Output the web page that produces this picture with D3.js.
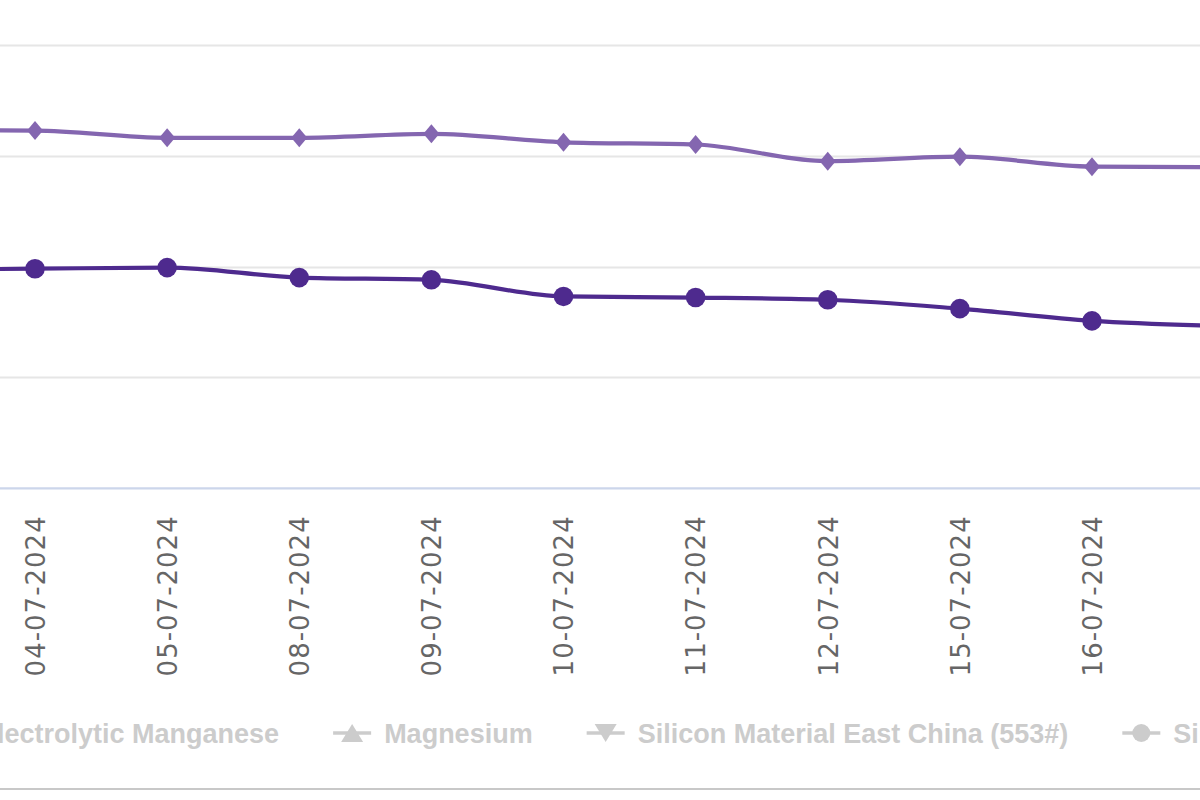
<!DOCTYPE html>
<html>
<head>
<meta charset="utf-8">
<script src="https://cdn.jsdelivr.net/npm/d3@7/dist/d3.min.js"></script>
<style>
  html, body { margin: 0; padding: 0; background: #fff; overflow: hidden; }
  svg { display: block; }
</style>
</head>
<body>
<svg id="chart" width="1200" height="800"></svg>
<script>
// ---- data ----
const dates = ["03-07-2024","04-07-2024","05-07-2024","08-07-2024","09-07-2024","10-07-2024",
               "11-07-2024","12-07-2024","15-07-2024","16-07-2024","17-07-2024"];
const tickLabels = ["04-07-2024","05-07-2024","08-07-2024","09-07-2024","10-07-2024",
                    "11-07-2024","12-07-2024","15-07-2024","16-07-2024"];
const upperValues = [12615, 12613, 12580, 12580, 12598, 12560, 12550, 12475, 12495, 12450, 12448];
const lowerValues = [11985, 11990, 11995, 11950, 11940, 11865, 11860, 11850, 11810, 11755, 11732];
const yTicks = [11000, 11500, 12000, 12500, 13000];
const legendNames = ["Electrolytic Manganese", "Magnesium", "Silicon Material East China (553#)",
                     "Silicon Material East China (441#)"];
const legendSymbols = ["square", "triangle", "triangle-down", "circle"];

// ---- styles ----
const upperColor = "#8466b0";
const lowerColor = "#4e2a8e";
const hiddenColor = "#cccccc";

const svg = d3.select("#chart");
const W = 1200;

const x = d3.scalePoint().domain(dates).range([-97.1, 1224.1]);
const y = d3.scaleLinear().domain([11000, 13000]).range([488.3, 44.7]);

// gridlines
svg.append("g").selectAll("line")
  .data(yTicks.slice(1))
  .join("line")
  .attr("x1", 0).attr("x2", W)
  .attr("y1", d => Math.round(y(d)) + 0.5).attr("y2", d => Math.round(y(d)) + 0.5)
  .attr("stroke", "#e6e6e6").attr("stroke-width", 2.2);

// x axis
const xAxis = svg.append("g")
  .attr("transform", `translate(0,${y(11000)})`)
  .call(d3.axisBottom(x).tickValues(tickLabels).tickSize(0).tickPadding(0));
xAxis.select(".domain").remove();
xAxis.append("line").attr("x1", 0).attr("x2", W).attr("y1", 0).attr("y2", 0)
  .attr("stroke", "#ccd6eb").attr("stroke-width", 2.2);
xAxis.selectAll(".tick text")
  .attr("transform", "rotate(-90)")
  .attr("x", -27).attr("y", 0).attr("dy", "0.36em")
  .attr("text-anchor", "end")
  .attr("fill", "#666666")
  .style("font-family", "'DejaVu Sans', Verdana, sans-serif")
  .style("font-size", "26px")
  .style("letter-spacing", "1px");

// lines
const line = d3.line().x((d, i) => x(dates[i])).y(d => y(d)).curve(d3.curveMonotoneX);
function drawSeries(vals, color, sym) {
  svg.append("path").datum(vals)
    .attr("d", line).attr("fill", "none")
    .attr("stroke", color).attr("stroke-width", 4.2)
    .attr("stroke-linejoin", "round").attr("stroke-linecap", "round");
  const g = svg.append("g");
  if (sym === "circle") {
    g.selectAll("circle").data(vals).join("circle")
      .attr("cx", (d, i) => x(dates[i])).attr("cy", d => y(d))
      .attr("r", 9.8).attr("fill", color);
  } else {
    g.selectAll("path").data(vals).join("path")
      .attr("transform", (d, i) => `translate(${x(dates[i])},${y(d)})`)
      .attr("d", "M0,-9.5 L8,0 L0,9.5 L-8,0 Z").attr("fill", color);
  }
}
drawSeries(upperValues, upperColor, "diamond");
drawSeries(lowerValues, lowerColor, "circle");

// legend (hidden series shown greyed, as in the reference)
function symbolPath(sym) {
  switch (sym) {
    case "triangle": return "M0,-9 L11,9 L-11,9 Z";
    case "triangle-down": return "M-11,-9 L11,-9 L0,9 Z";
    case "square": return "M-9,-9 H9 V9 H-9 Z";
    default: return d3.symbol(d3.symbolCircle, Math.PI * 81)();
  }
}
const legend = svg.append("g");
const legendY = 733;
let cursor = -72;
legendNames.forEach((name, i) => {
  const col = hiddenColor;
  const item = legend.append("g").attr("transform", `translate(${cursor},${legendY})`);
  item.append("line").attr("x1", 0).attr("x2", 38).attr("y1", 0).attr("y2", 0)
    .attr("stroke", col).attr("stroke-width", 3.5);
  item.append("path").attr("transform", "translate(19,0)").attr("d", symbolPath(legendSymbols[i]))
    .attr("fill", col);
  const t = item.append("text").attr("x", 51).attr("y", 9.5)
    .attr("fill", col)
    .style("font-family", "'Liberation Sans', Arial, sans-serif")
    .style("font-weight", "bold")
    .style("font-size", "27px")
    .text(name);
  const w = t.node().getComputedTextLength();
  cursor += 51 + w + 54;
});

// bottom border
svg.append("line").attr("x1", 0).attr("x2", W).attr("y1", 789).attr("y2", 789)
  .attr("stroke", "#c8c8c8").attr("stroke-width", 2);
</script>
</body>
</html>
